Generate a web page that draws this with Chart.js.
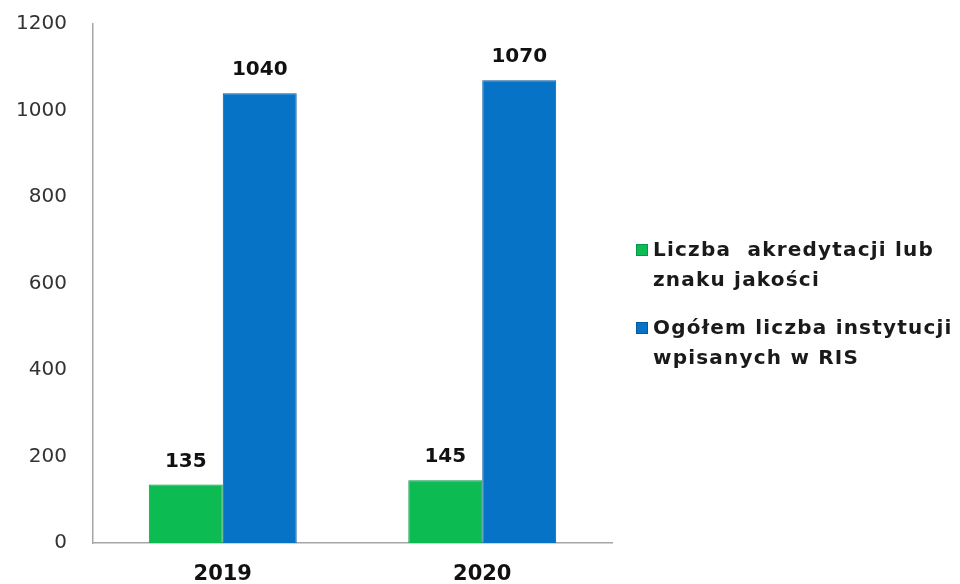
<!DOCTYPE html>
<html>
<head>
<meta charset="utf-8">
<script src="https://cdn.jsdelivr.net/npm/chart.js@4.4.0/dist/chart.umd.min.js"></script>
<style>
    body { margin: 0; background: #fff; }
    #wrap { position: relative; width: 960px; height: 584px; }
    #legenda { position: absolute; left: 636px; top: 234px; font-family: "DejaVu Sans", sans-serif; font-weight: bold; font-size: 20px; letter-spacing: 1.2px; color: #1a1a1a; line-height: 30px; white-space: pre; }
    .leg-item { display: flex; align-items: flex-start; margin-bottom: 18px; }
    .leg-box { width: 10px; height: 10px; margin-top: 10px; margin-right: 5px; flex: none; }
</style>
</head>
<body>
<div id="wrap">
    <canvas id="meuGrafico" width="960" height="584"></canvas>
    <div id="legenda"></div>
</div>
<script>
const anos = ["2019", "2020"];
const akredytacje = [135, 145];
const instytucje = [1040, 1070];
const ticksY = [0, 200, 400, 600, 800, 1000, 1200];
const nazwy = ["Liczba  akredytacji lub\nznaku jakości", "Ogółem liczba instytucji\nwpisanych w RIS"];
const cores = ["#0cbb52", "#0673c6"];
const bordas = ["#07974a", "#05599b"];

// rotulos em cima das barras
const rotulos = {
    id: 'rotulos',
    afterDatasetsDraw(chart) {
        const ctx = chart.ctx;
        ctx.save();
        ctx.font = 'bold 20px "DejaVu Sans", sans-serif';
        ctx.fillStyle = '#111';
        ctx.textAlign = 'center';
        ctx.textBaseline = 'bottom';
        chart.data.datasets.forEach((ds, i) => {
            chart.getDatasetMeta(i).data.forEach((bar, j) => {
                ctx.fillText(ds.data[j], bar.x, bar.y - 13);
            });
        });
        ctx.restore();
    }
};

const ctx = document.getElementById('meuGrafico').getContext('2d');
new Chart(ctx, {
    type: 'bar',
    data: {
        labels: anos,
        datasets: [
            { label: "Liczba  akredytacji lub znaku jakości", data: akredytacje, backgroundColor: cores[0], borderColor: bordas[0], borderWidth: 1 },
            { label: "Ogółem liczba instytucji wpisanych w RIS", data: instytucje, backgroundColor: cores[1], borderColor: bordas[1], borderWidth: 1 }
        ]
    },
    options: {
        responsive: false,
        animation: false,
        layout: { padding: { left: 0, right: 348, top: 24, bottom: 0 } },
        datasets: { bar: { categoryPercentage: 0.57, barPercentage: 1 } },
        plugins: { legend: { display: false }, tooltip: { enabled: false } },
        scales: {
            x: {
                grid: { display: false },
                border: { display: true, color: '#a6a6a6', width: 1.5 },
                ticks: { color: '#111', padding: 11, font: { family: '"DejaVu Sans", sans-serif', size: 21, weight: 'bold' } },
                afterFit: s => { s.height = 41; }
            },
            y: {
                min: 0, max: 1200,
                grid: { display: false },
                border: { display: true, color: '#a6a6a6', width: 1.5 },
                afterBuildTicks: s => { s.ticks = ticksY.map(v => ({ value: v })); },
                ticks: { color: '#333', padding: 18, font: { family: '"DejaVu Sans", sans-serif', size: 20 }, callback: v => String(v) },
                afterFit: s => { s.width = 93; s.paddingTop = 0; s.paddingBottom = 0; }
            }
        }
    },
    plugins: [rotulos]
});

document.getElementById('legenda').innerHTML = nazwy.map((n, i) => `<div class="leg-item"><span class="leg-box" style="background:${cores[i]};border:1px solid ${bordas[i]}"></span><span>${n}</span></div>`).join('');
</script>
</body>
</html>
